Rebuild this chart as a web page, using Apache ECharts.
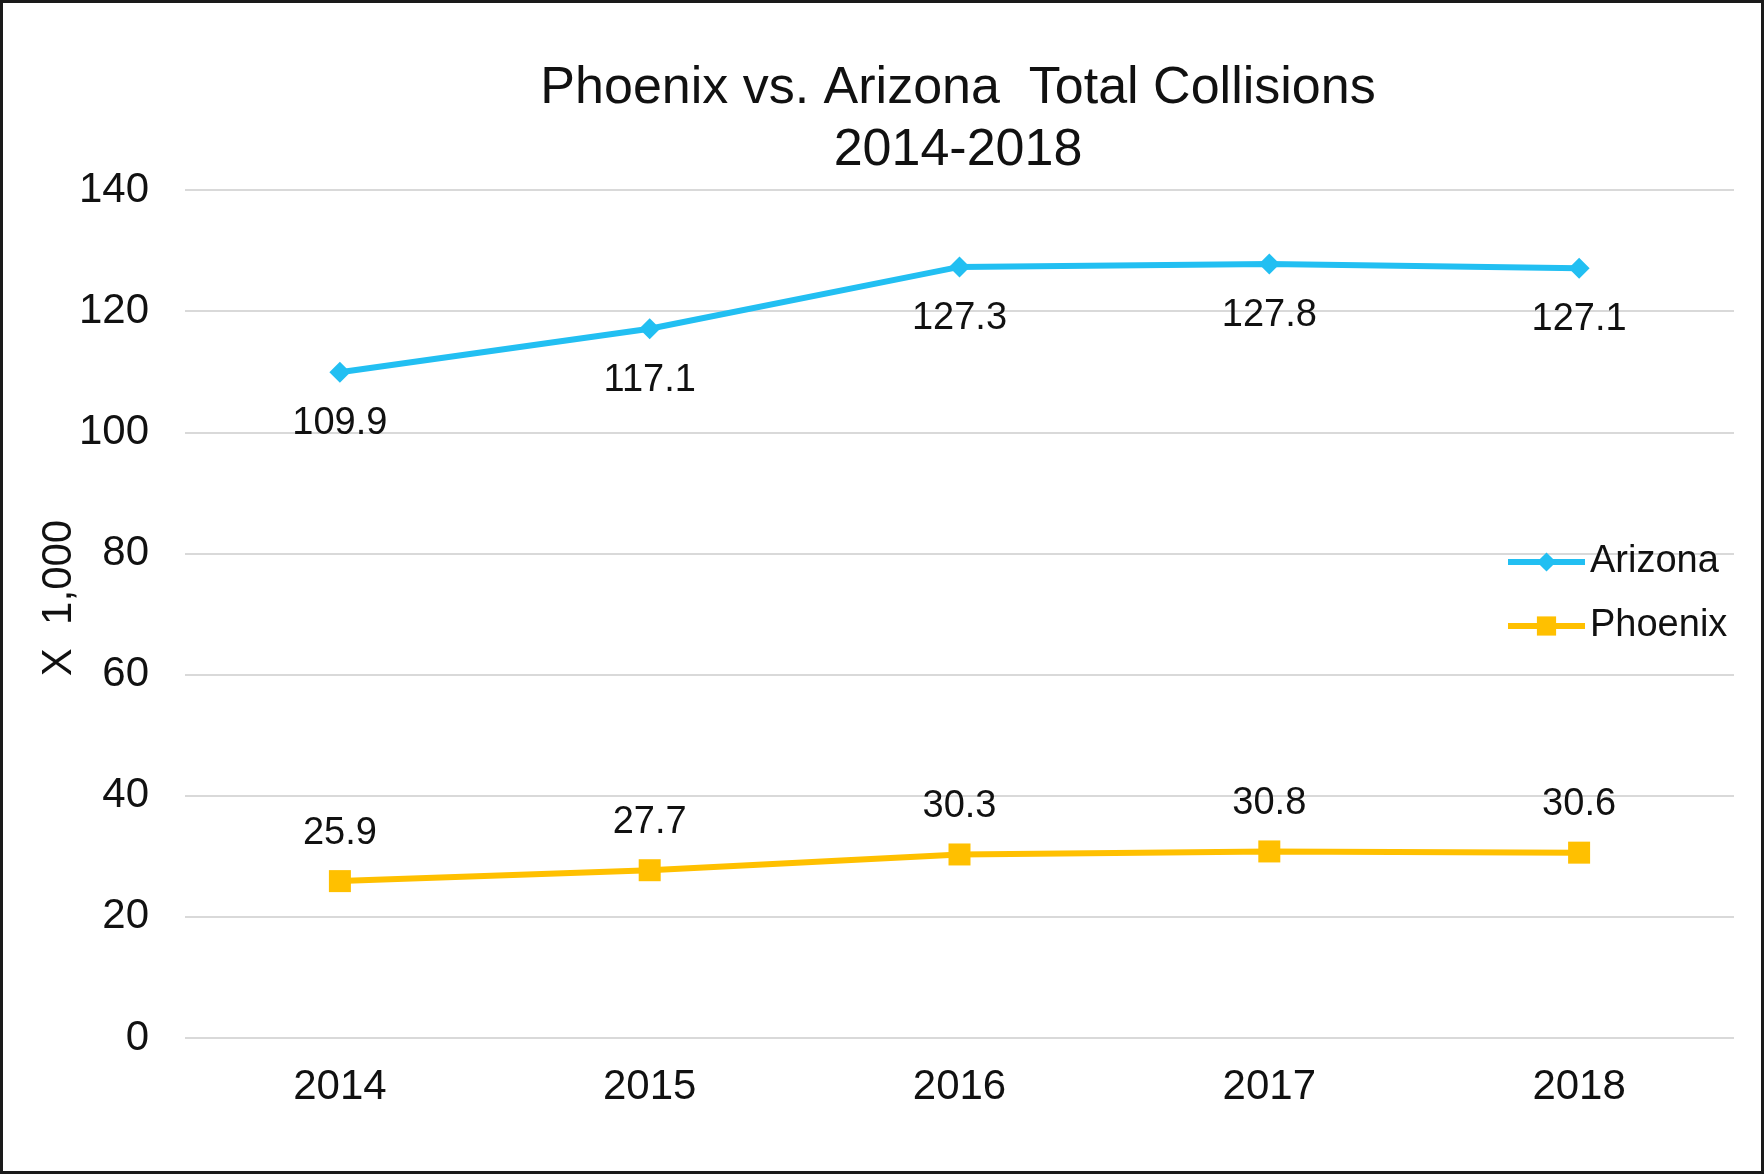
<!DOCTYPE html>
<html>
<head>
<meta charset="utf-8">
<script src="https://cdn.jsdelivr.net/npm/echarts@6/dist/echarts.min.js"></script>
<style>
html, body { margin: 0; padding: 0; background: #fff; }
#main { width: 1764px; height: 1174px; box-sizing: border-box; border: 3px solid #1a1a1a; }
</style>
</head>
<body>
<div id="main"></div>
<script>
// data (thousands of collisions)
var years = ['2014', '2015', '2016', '2017', '2018'];
var arizona = [109.9, 117.1, 127.3, 127.8, 127.1];
var phoenix = [25.9, 27.7, 30.3, 30.8, 30.6];

var font = '"Liberation Sans", Arial, sans-serif';
var chart = echarts.init(document.getElementById('main'));

chart.setOption({
    animation: false,
    color: ['#22bff2', '#ffc000'],
    textStyle: { fontFamily: font },
    title: {
        text: 'Phoenix vs. Arizona  Total Collisions\n2014-2018',
        left: 950,
        top: 50,
        textAlign: 'center',
        textStyle: { fontFamily: font, fontSize: 52, fontWeight: 'normal', color: '#111', lineHeight: 62 }
    },
    legend: {
        orient: 'vertical',
        left: 1497,
        top: 535,
        itemWidth: 77,
        itemHeight: 24,
        itemGap: 26,
        itemStyle: { borderWidth: 0 },
        lineStyle: { width: 6 },
        textStyle: { fontFamily: font, fontSize: 38, color: '#111' },
        data: ['Arizona', 'Phoenix']
    },
    grid: { left: 182, right: 27, top: 187, bottom: 133 },
    xAxis: {
        type: 'category',
        data: years,
        boundaryGap: true,
        axisLine: { show: false },
        axisTick: { show: false },
        axisLabel: { fontSize: 42, color: '#111', margin: 28 }
    },
    yAxis: {
        type: 'value',
        min: 0,
        max: 140,
        interval: 20,
        name: 'X  1,000',
        nameLocation: 'middle',
        nameGap: 105,
        nameMoveOverlap: false,
        nameTextStyle: { fontSize: 42, color: '#111', padding: [0, 0, 0, 32] },
        axisLine: { show: false },
        axisTick: { show: false },
        axisLabel: { fontSize: 42, color: '#111', margin: 36 },
        splitLine: { lineStyle: { color: '#d9d9d9', width: 2 } }
    },
    series: [
        {
            name: 'Arizona',
            type: 'line',
            data: arizona,
            symbol: 'diamond',
            symbolSize: 21,
            lineStyle: { width: 6 },
            label: { show: true, position: 'bottom', distance: 22, fontSize: 38, color: '#111' }
        },
        {
            name: 'Phoenix',
            type: 'line',
            data: phoenix,
            symbol: 'rect',
            symbolSize: 22,
            lineStyle: { width: 6 },
            label: { show: true, position: 'top', distance: 18, fontSize: 38, color: '#111' }
        }
    ]
});
</script>
</body>
</html>
